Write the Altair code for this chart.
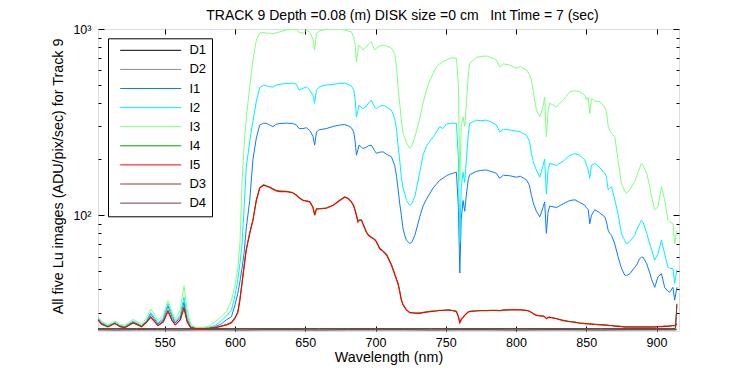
import altair as alt
import pandas as pd

# ---------------- data ----------------
wl = [502.5, 505, 509.5, 514.5, 518, 521.5, 527.5, 533.5, 537, 540,
      542.5, 545.2, 549, 552.3, 555, 557.5, 561, 563.7, 566, 568.5,
      572, 578, 582, 586, 590, 594, 597.5, 600, 602, 603.5,
      605, 606.5, 608, 610.5, 612.8, 615.2, 617.6, 620.4, 622.4, 624.7,
      627, 629.4, 632, 636.6, 641, 643.7, 645.6, 648.4, 650.8, 653.2,
      655.5, 656.7, 658, 660, 665, 670, 674.5, 678, 680.5, 682.8,
      684.5, 685.5, 686.4, 687.5, 688.3, 690, 691, 693.5, 695, 697,
      699.4, 700.6, 703, 705.4, 708, 711.3, 713.7, 715, 716, 717.2,
      718.4, 719.6, 720.8, 722, 724.4, 726, 728, 731.5, 733.8, 736.3,
      738.7, 741, 743.4, 745.7, 748, 750.5, 752.8, 755, 757.6, 759,
      760, 761, 762.3, 763.5, 764.7, 766, 767, 771.8, 775, 778.9,
      782, 786, 788.4, 791, 795.5, 800.3, 803, 807.4, 809.5, 811,
      812.5, 814.5, 816.9, 819.2, 820.4, 821.6, 822.8, 824, 828.8, 833.5,
      838.3, 842, 845.4, 849, 850.1, 851.4, 852.5, 853.7, 856.1, 859.6,
      863.2, 864.4, 865.6, 866.7, 868, 870.3, 872.6, 875, 877.4, 878.6,
      881, 884.5, 885.8, 888, 889.3, 890.4, 893, 895.2, 896.6, 898.7,
      901, 903.5, 905.8, 908.2, 909.3, 911.7, 912.9, 914.5]

i3 = [28.5, 27.0, 25.8, 27.0, 26.0, 25.6, 27.6, 26.0, 28.0, 31.3,
      29.5, 27.2, 29.0, 34.8, 30.5, 27.5, 31.0, 41.8, 31.0, 26.0,
      25.0, 25.0, 25.6, 26.8, 28.5, 30.5, 35.0, 42.0, 52.0, 70.0,
      150, 240, 330, 490, 681, 873, 950, 960, 948, 950,
      945, 955, 965, 988, 995, 990, 960, 948, 985, 960,
      880, 771, 948, 975, 995, 1000, 1000, 990, 975, 967,
      900, 820, 667, 760, 820, 790, 771, 803, 830, 855,
      771, 790, 810, 820, 810, 790, 740, 620, 490, 400,
      324, 275, 260, 245, 228, 238, 263, 330, 400, 470,
      530, 578, 627, 650, 667, 681, 696, 700, 696, 500,
      150, 300, 337, 300, 399, 560, 654, 704, 712, 716,
      705, 681, 627, 650, 640, 615, 630, 602, 570, 532,
      450, 367, 337, 382, 432, 263, 360, 399, 382, 415,
      460, 466, 460, 442, 415, 430, 350, 424, 410, 407,
      380, 360, 300, 287, 275, 263, 198, 148, 135, 131,
      137, 152, 161, 180, 190, 185, 168, 142, 125, 107,
      111, 142, 121, 94, 92, 90, 70, 83]

i2 = [28.0, 26.6, 25.5, 26.6, 25.7, 25.3, 27.0, 25.6, 27.2, 30.0,
      28.3, 26.4, 28.0, 33.5, 29.5, 26.8, 29.0, 36.4, 28.5, 25.4,
      24.8, 24.8, 25.1, 25.6, 27.0, 28.8, 31.0, 37.0, 45.0, 55.0,
      70, 110, 180, 250, 320, 410, 485, 500, 495, 490,
      488, 500, 505, 510, 512, 505, 470, 480, 490, 470,
      440, 399, 470, 490, 500, 505, 510, 512, 505, 495,
      470, 420, 337, 365, 390, 380, 374, 385, 400, 415,
      380, 374, 385, 390, 380, 367, 330, 287, 240, 198,
      160, 140, 131, 120, 113, 116, 126, 170, 210, 235,
      250, 263, 280, 299, 292, 309, 311, 312, 311, 200,
      72, 140, 170, 150, 200, 270, 311, 324, 322, 324,
      318, 305, 280, 290, 287, 283, 280, 269, 250, 215,
      190, 175, 160, 185, 200, 130, 175, 190, 185, 195,
      210, 214, 210, 198, 186, 175, 158, 185, 190, 180,
      168, 160, 137, 140, 142, 121, 102, 80, 73, 70.2,
      72, 78, 83, 90, 94, 92, 80, 70, 65, 57.4,
      62, 73.5, 62, 52.5, 52, 51.6, 43, 51]

i1 = [27.7, 26.3, 25.3, 26.4, 25.5, 25.1, 26.8, 25.4, 26.9, 29.5,
      27.8, 26.1, 27.5, 32.6, 28.6, 26.4, 28.3, 34.2, 27.6, 25.2,
      24.7, 24.7, 24.9, 25.2, 26.0, 27.5, 28.5, 33.0, 38.0, 44.0,
      52, 63, 85, 120, 200, 260, 305, 312, 311, 305,
      299, 308, 311, 312, 311, 305, 292, 292, 295, 285,
      265, 238, 280, 288, 292, 300, 305, 307, 302, 295,
      280, 250, 210, 225, 238, 232, 228, 232, 236, 238,
      222, 215, 218, 219, 212, 206, 185, 161, 140, 116,
      100, 85, 78, 73.5, 70.4, 72, 78, 98, 112, 122,
      131, 140, 147, 154, 158, 163, 166, 168, 170, 110,
      49, 95, 120, 105, 130, 155, 165, 172, 174, 175,
      172, 168, 158, 164, 163, 160, 162, 155, 145, 128,
      115, 105, 98, 110, 118, 80, 104, 112, 110, 115,
      120, 121, 117, 113, 110, 107, 90, 100, 107, 103,
      98, 92, 83, 80, 78, 70, 60, 52, 47.7, 47.4,
      48.5, 52.5, 54, 58.5, 59.5, 59.5, 55, 49, 45, 41,
      46.6, 48.6, 41, 39, 38.6, 41, 35, 41]

i4 = [27.4, 26.1, 25.1, 26.3, 25.2, 24.9, 26.4, 25.3, 26.5, 28.5,
      27.1, 25.5, 26.9, 30.5, 27.4, 25.8, 27.5, 31.6, 26.8, 24.9,
      24.6, 24.6, 24.7, 24.9, 25.4, 25.9, 26.6, 28.2, 30.3, 35.4,
      43.5, 53.5, 65.5, 80.5, 95, 121, 141, 146, 144, 142,
      139, 136, 135, 134.5, 132.5, 128.5, 124.5, 120.5, 119.5, 118.5,
      110.5, 101, 108.5, 108.5, 109.5, 113.5, 120.5, 125.5, 123.5, 118.5,
      112.5, 106.5, 100.5, 92.5, 94.5, 94.5, 90.5, 81.5, 78.5, 76.5,
      74.5, 72.5, 66.5, 64.5, 61.5, 54.5, 48.5, 45.3, 43.3, 39.3,
      35.2, 33.2, 32.1, 31.1, 30.1, 30.0, 29.9, 29.9, 30.1, 30.3,
      30.5, 30.6, 30.7, 30.9, 30.9, 31.0, 31.0, 30.8, 30.5, 28.6,
      26.6, 27.6, 28.4, 29.1, 29.7, 30.3, 30.5, 30.7, 30.8, 30.8,
      30.9, 30.9, 30.8, 31.0, 31.1, 31.1, 31.1, 30.9, 30.6, 30.1,
      29.6, 29.1, 28.9, 28.8, 28.6, 27.9, 28.3, 28.4, 27.9, 27.3,
      26.9, 26.7, 26.4, 26.3, 26.2, 26.2, 26.1, 26.1, 26.0, 25.9,
      25.8, 25.7, 25.7, 25.6, 25.6, 25.5, 25.4, 25.3, 25.2, 25.2,
      25.2, 25.2, 25.2, 25.2, 25.2, 25.2, 25.2, 25.2, 25.2, 25.2,
      25.3, 25.3, 25.4, 25.4, 25.5, 25.6, 25.6, 26.1]

i5 = [27.5, 26.0, 25.2, 26.2, 25.3, 24.9, 26.5, 25.2, 26.6, 28.4,
      27.0, 25.6, 26.8, 30.7, 27.5, 25.8, 27.4, 32.0, 26.7, 24.9,
      24.6, 24.6, 24.7, 24.9, 25.3, 25.8, 26.5, 28.0, 30.0, 35.0,
      43, 53, 65, 80, 94, 120, 140, 145, 143, 141,
      138, 135, 134, 134, 132, 128, 124, 120, 119, 118,
      110, 100, 108, 108, 109, 113, 120, 125, 123, 118,
      112, 106, 100, 92, 94, 94, 90, 81, 78, 76,
      74, 72, 66, 64, 61, 54, 48, 45, 43, 39,
      35, 33, 32, 31, 30, 29.9, 29.8, 29.7, 30.0, 30.2,
      30.4, 30.5, 30.6, 30.8, 30.8, 30.9, 30.9, 30.7, 30.4, 28.5,
      26.5, 27.5, 28.3, 29.0, 29.6, 30.2, 30.4, 30.6, 30.7, 30.7,
      30.8, 30.8, 30.7, 30.9, 31.0, 31.0, 31.0, 30.8, 30.5, 30.0,
      29.5, 29.0, 28.8, 28.7, 28.5, 27.8, 28.2, 28.3, 27.8, 27.2,
      26.8, 26.6, 26.3, 26.2, 26.1, 26.1, 26.0, 26.0, 25.9, 25.8,
      25.7, 25.6, 25.6, 25.5, 25.5, 25.4, 25.3, 25.2, 25.1, 25.1,
      25.1, 25.1, 25.1, 25.1, 25.1, 25.1, 25.1, 25.1, 25.1, 25.1,
      25.2, 25.2, 25.3, 25.3, 25.4, 25.5, 25.5, 26.0]

d_wl = [502.5, 515, 530, 545, 560, 575, 590, 605, 620, 640,
        660, 680, 700, 720, 740, 760, 780, 800, 820, 840,
        860, 880, 900, 910, 913.5, 914.5]
d1 = [24.3, 24.2, 24.3, 24.3, 24.2, 24.3, 24.3, 24.2, 24.3, 24.3,
      24.2, 24.3, 24.3, 24.3, 24.2, 24.3, 24.3, 24.2, 24.3, 24.3,
      24.2, 24.3, 24.3, 24.3, 24.3, 24.4]
d2 = [24.2, 24.2, 24.2, 24.2, 24.2, 24.2, 24.2, 24.2, 24.2, 24.2,
      24.2, 24.2, 24.2, 24.2, 24.2, 24.2, 24.2, 24.2, 24.2, 24.2,
      24.2, 24.2, 24.2, 24.2, 24.2, 24.3]
d3 = [24.6, 24.6, 24.6, 24.6, 24.6, 24.6, 24.6, 24.6, 24.6, 24.6,
      24.6, 24.6, 24.6, 24.6, 24.6, 24.6, 24.6, 24.6, 24.6, 24.6,
      24.6, 24.6, 24.6, 24.6, 24.7, 33.5]
d4 = [24.6, 24.6, 24.6, 24.6, 24.6, 24.6, 24.6, 24.6, 24.6, 24.6,
      24.6, 24.6, 24.6, 24.6, 24.6, 24.6, 24.6, 24.6, 24.6, 24.6,
      24.6, 24.6, 24.6, 24.6, 24.7, 33.0]

series_order = ["D1", "D2", "I1", "I2", "I3", "I4", "I5", "D3", "D4"]
series_colors = ["#000000", "#8c8c8c", "#0a7cff", "#00f0ff", "#80ff80",
                 "#00a000", "#ff0000", "#804040", "#704040"]

x_tick_values = [550, 600, 650, 700, 750, 800, 850, 900]
y_tick_values = [30, 40, 50, 60, 70, 80, 90, 100, 200, 300, 400, 500,
                 600, 700, 800, 900, 1000]

title_text = "TRACK 9 Depth =0.08 (m) DISK size =0 cm\u00a0\u00a0 Int Time = 7 (sec)"
y_title = "All five Lu images (ADU/pix/sec) for Track 9"
x_title = "Wavelength (nm)"

# ---------------- build table ----------------
rows = []
for name, xs_, ys_ in [("D1", d_wl, d1), ("D2", d_wl, d2), ("D3", d_wl, d3),
                       ("D4", d_wl, d4), ("I1", wl, i1), ("I2", wl, i2),
                       ("I3", wl, i3), ("I4", wl, i4), ("I5", wl, i5)]:
    for a, b in zip(xs_, ys_):
        rows.append({"series": name, "wl": a, "val": b})
df = pd.DataFrame(rows)

W, H = 581, 302
FONT = "Liberation Sans"
XDOM = [502.5, 916]
YDOM = [23.9, 1000]


def xscale():
    return alt.Scale(domain=XDOM, nice=False, zero=False)


def yscale():
    return alt.Scale(type="log", domain=YDOM, nice=False)


lines = alt.Chart(df).transform_filter("datum.series != 'I5'").mark_line(
    clip=True, strokeWidth=1).encode(
    x=alt.X("wl:Q", scale=xscale(), axis=alt.Axis(
        values=x_tick_values, ticks=False, tickSize=0, domain=False, grid=False,
        labelPadding=5, labelFontSize=12.5, labelFont=FONT, labelColor="black",
        labelFlush=False, labelOverlap=False,
        title=x_title, titleFont=FONT, titleFontSize=14.3, titleFontWeight="normal",
        titleColor="black", titleX=W / 2, titleY=26, titleBaseline="middle")),
    y=alt.Y("val:Q", scale=yscale(), axis=alt.Axis(
        values=[100, 1000], ticks=False, tickSize=0, domain=False, grid=False,
        labelExpr="datum.value == 1000 ? '10\u00b3' : '10\u00b2'",
        labelPadding=7, labelFontSize=12.5, labelFont=FONT, labelColor="black",
        labelFlush=False, labelOverlap=False, labelBaseline="middle",
        title=y_title, titleFont=FONT, titleFontSize=14.3, titleFontWeight="normal",
        titleColor="black", titleX=-40, titleY=H / 2 - 4, titleBaseline="middle")),
    color=alt.Color("series:N", scale=alt.Scale(domain=series_order, range=series_colors),
                    legend=alt.Legend(title=None, orient="none", legendX=10, legendY=9.3,
                                      symbolType="M0.04,0H12.24", symbolSize=100,
                                      symbolStrokeWidth=1, labelFontSize=13,
                                      labelFont=FONT, labelColor="black",
                                      labelExpr="datum.label + '\u00a0\u2009'",
                                      padding=5.5, strokeColor="black",
                                      fillColor="white", rowPadding=5.1,
                                      labelOffset=62.9, symbolOffset=0)),
)

# I5 drawn last so that the red trace sits on top of the near-identical I4 trace
red_line = alt.Chart(df).transform_filter("datum.series == 'I5'").mark_line(
    clip=True, strokeWidth=1.2, color="#ff0000").encode(
    x=alt.X("wl:Q", scale=xscale(), axis=None),
    y=alt.Y("val:Q", scale=yscale(), axis=None),
)

ysize = {"condition": {"test": "datum.value == 100 || datum.value == 1000", "value": 6},
         "value": 3}

ticks_a = alt.Chart(df).mark_point(opacity=0).encode(
    x=alt.X("wl:Q", scale=xscale(), axis=alt.Axis(
        orient="top", offset=-H, values=x_tick_values, labels=False, domain=False,
        grid=False, tickSize=5, tickColor="black", title=None)),
    y=alt.Y("val:Q", scale=yscale(), axis=alt.Axis(
        orient="right", offset=-W, values=y_tick_values, labels=False, domain=False,
        grid=False, tickSize=ysize, tickColor="black", title=None)),
)

ticks_b = alt.Chart(df).mark_point(opacity=0).encode(
    x=alt.X("wl:Q", scale=xscale(), axis=alt.Axis(
        orient="bottom", offset=-H, values=x_tick_values, labels=False, domain=False,
        grid=False, tickSize=5, tickColor="black", title=None)),
    y=alt.Y("val:Q", scale=yscale(), axis=alt.Axis(
        orient="left", offset=-W, values=y_tick_values, labels=False, domain=False,
        grid=False, tickSize=ysize, tickColor="black", title=None)),
)

chart = alt.layer(lines, red_line, ticks_a, ticks_b).resolve_scale(
    x="independent", y="independent"
).properties(
    width=W, height=H, autosize="none",
    padding={"left": 90, "top": 21, "right": 63, "bottom": 36},
    title=alt.TitleParams(text=title_text, font=FONT, fontSize=14,
                          fontWeight="normal", color="black", anchor="middle",
                          frame="group", baseline="alphabetic", offset=-10.5, dx=14),
).configure_view(stroke="black", strokeWidth=1).configure(background="white")

chart.save("out.html", embed_options={"renderer": "svg", "actions": False})
